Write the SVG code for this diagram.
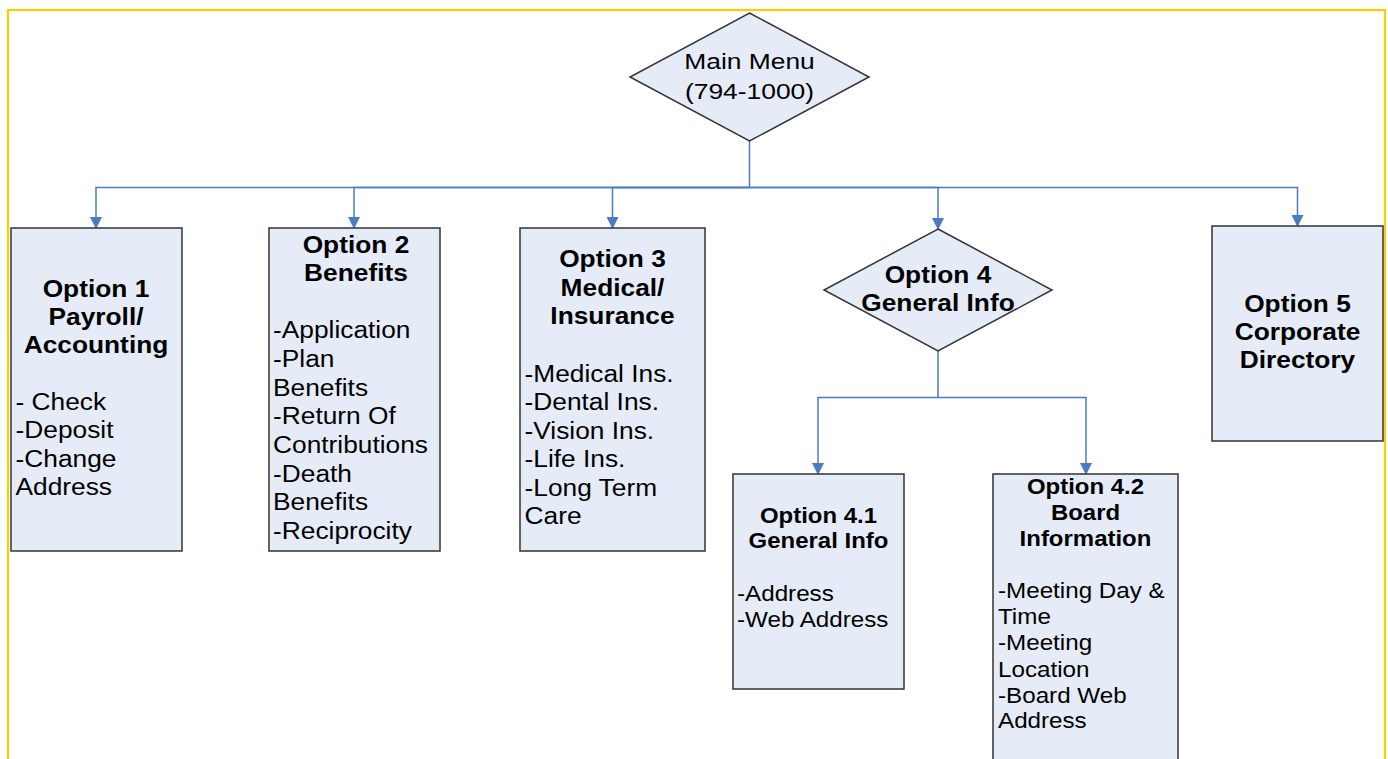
<svg xmlns="http://www.w3.org/2000/svg" width="1388" height="759" viewBox="0 0 1388 759">
<style>
.box{fill:#E6ECF7;stroke:#333;stroke-width:1.5}
.con{fill:none;stroke:#4A7CC4;stroke-width:1.5}
text{font-family:"Liberation Sans",Arial,sans-serif;fill:#000}
.t{font-weight:bold;font-size:23.5px;text-anchor:middle}
.b{font-size:23.5px}
.t2{font-weight:bold;font-size:22px;text-anchor:middle}
.b2{font-size:22px}
.m{font-size:22px;text-anchor:middle}
</style>
<defs>
<marker id="arr" markerUnits="userSpaceOnUse" markerWidth="12" markerHeight="12" refX="11" refY="6" orient="auto" viewBox="0 0 12 12">
<path d="M0,0 L12,6 L0,12 z" fill="#4A7CC4"/>
</marker>
</defs>
<rect x="8" y="10" width="1377" height="770" fill="#fff" stroke="#FFCC00" stroke-width="2.2"/>
<g id="connectors">
<path class="con" d="M749.5 141 V187.5 H96 V228" marker-end="url(#arr)"/>
<path class="con" d="M749.5 187.5 H354 V228" marker-end="url(#arr)"/>
<path class="con" d="M749.5 187.5 H612.5 V228" marker-end="url(#arr)"/>
<path class="con" d="M749.5 187.5 H938 V229" marker-end="url(#arr)"/>
<path class="con" d="M749.5 187.5 H1297.5 V226" marker-end="url(#arr)"/>
<path class="con" d="M938 351 V397.5 H818 V474" marker-end="url(#arr)"/>
<path class="con" d="M938 397.5 H1086 V474" marker-end="url(#arr)"/>
</g>
<g id="main">
<polygon class="box" points="749.5,13 869,77 749.5,141 630,77"/>
<text class="m" transform="translate(749.5 0) scale(1.2 1)" x="0" y="69">Main Menu</text>
<text class="m" transform="translate(749.5 0) scale(1.2 1)" x="0" y="99">(794-1000)</text>
</g>
<g id="opt1">
<rect class="box" x="11" y="228" width="171" height="323"/>
<g transform="translate(96 0) scale(1.12 1)">
<text class="t" x="0" y="297">Option 1</text>
<text class="t" x="0" y="325">Payroll/</text>
<text class="t" x="0" y="353">Accounting</text>
</g>
<g transform="translate(15.5 0) scale(1.12 1)">
<text class="b" x="0" y="410">- Check</text>
<text class="b" x="0" y="438.5">-Deposit</text>
<text class="b" x="0" y="467">-Change</text>
<text class="b" x="0" y="495.5">Address</text>
</g>
</g>
<g id="opt2">
<rect class="box" x="269" y="228" width="171" height="323"/>
<g transform="translate(356 0) scale(1.12 1)">
<text class="t" x="0" y="253">Option 2</text>
<text class="t" x="0" y="281">Benefits</text>
</g>
<g transform="translate(273 0) scale(1.12 1)">
<text class="b" x="0" y="338.5">-Application</text>
<text class="b" x="0" y="367">-Plan</text>
<text class="b" x="0" y="396">Benefits</text>
<text class="b" x="0" y="424.5">-Return Of</text>
<text class="b" x="0" y="453">Contributions</text>
<text class="b" x="0" y="482">-Death</text>
<text class="b" x="0" y="510.5">Benefits</text>
<text class="b" x="0" y="539">-Reciprocity</text>
</g>
</g>
<g id="opt3">
<rect class="box" x="520" y="228" width="185" height="323"/>
<g transform="translate(612.5 0) scale(1.12 1)">
<text class="t" x="0" y="267">Option 3</text>
<text class="t" x="0" y="296">Medical/</text>
<text class="t" x="0" y="324">Insurance</text>
</g>
<g transform="translate(524.5 0) scale(1.12 1)">
<text class="b" x="0" y="382">-Medical Ins.</text>
<text class="b" x="0" y="410.5">-Dental Ins.</text>
<text class="b" x="0" y="439">-Vision Ins.</text>
<text class="b" x="0" y="467.5">-Life Ins.</text>
<text class="b" x="0" y="496">-Long Term</text>
<text class="b" x="0" y="524.5">Care</text>
</g>
</g>
<g id="opt4">
<polygon class="box" points="938,229 1052,290 938,351 824,290"/>
<g transform="translate(938 0) scale(1.12 1)">
<text class="t" x="0" y="283">Option 4</text>
<text class="t" x="0" y="311">General Info</text>
</g>
</g>
<g id="opt5">
<rect class="box" x="1212" y="226" width="171" height="215"/>
<g transform="translate(1297.5 0) scale(1.12 1)">
<text class="t" x="0" y="312">Option 5</text>
<text class="t" x="0" y="340">Corporate</text>
<text class="t" x="0" y="368">Directory</text>
</g>
</g>
<g id="opt41">
<rect class="box" x="733" y="474" width="171" height="215"/>
<g transform="translate(818.5 0) scale(1.09 1)">
<text class="t2" x="0" y="523">Option 4.1</text>
<text class="t2" x="0" y="548.5">General Info</text>
</g>
<g transform="translate(737 0) scale(1.1 1)">
<text class="b2" x="0" y="601">-Address</text>
<text class="b2" x="0" y="627">-Web Address</text>
</g>
</g>
<g id="opt42">
<rect class="box" x="993" y="474" width="185" height="300"/>
<g transform="translate(1085.5 0) scale(1.09 1)">
<text class="t2" x="0" y="494">Option 4.2</text>
<text class="t2" x="0" y="520">Board</text>
<text class="t2" x="0" y="546">Information</text>
</g>
<g transform="translate(998 0) scale(1.1 1)">
<text class="b2" x="0" y="598">-Meeting Day &amp;</text>
<text class="b2" x="0" y="624">Time</text>
<text class="b2" x="0" y="650.5">-Meeting</text>
<text class="b2" x="0" y="677">Location</text>
<text class="b2" x="0" y="703">-Board Web</text>
<text class="b2" x="0" y="728.5">Address</text>
</g>
</g>
</svg>
